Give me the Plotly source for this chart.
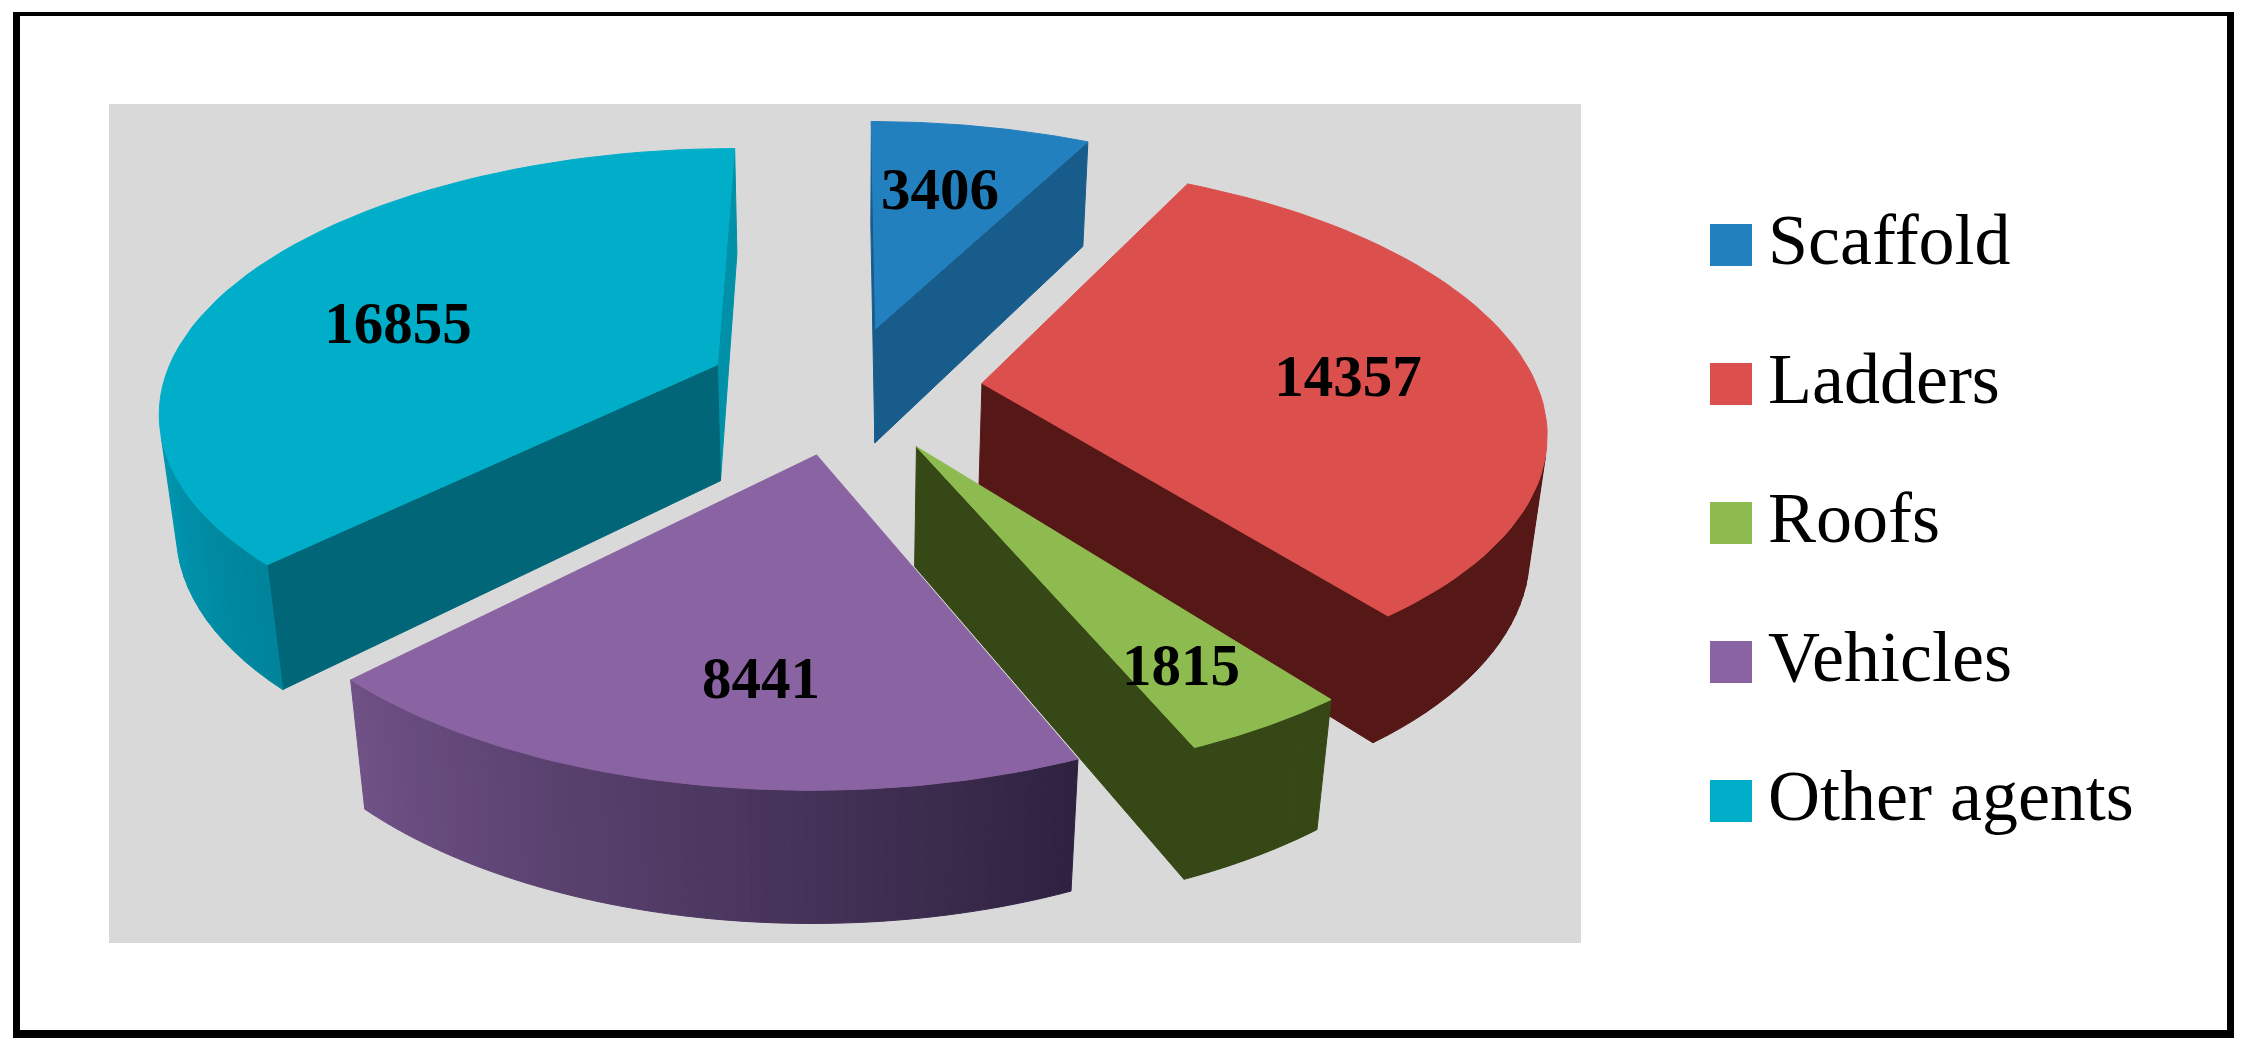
import numpy as np
import plotly.graph_objs as go

categories = ["Scaffold", "Ladders", "Roofs", "Vehicles", "Other agents"]
values = [3406, 14357, 1815, 8441, 16855]

top_colors = ["#2380BF", "#DB4F4D", "#8DBB50", "#8A63A2", "#00AEC9"]
radial_colors = ["#185C8C", "#561817", "#364816", "#6F5186", "#006678"]
# outer wall colour at the start and the end of the visible part of the arc
arc_colors = [("#185C8C", "#185C8C"), ("#561817", "#561817"), ("#364816", "#364816"),
              ("#2F2240", "#6F5186"), ("#00849C", "#00A4C0")]
arc_shade_span = [1, 1, 1, 1, 0.38]

# pie projection, in page pixels
X0, Y0 = 844, 389
A, B, H = 556, 258, 120
P, Q = 0.16, 0.025
EXPLODE = 0.25
# painter's order, back to front
draw_order = [0, 1, 2, 4, 3]
label_pos = [(940, 194), (1348, 381), (1181, 670), (761, 683), (398, 328)]


def project(px, py, pz):
    w = 1 / (1 + P * py + Q * pz)
    return X0 + A * px * w, Y0 + (-B * py + H * pz) * w


def mix(c1, c2, t):
    a = [int(c1[i:i + 2], 16) for i in (1, 3, 5)]
    b = [int(c2[i:i + 2], 16) for i in (1, 3, 5)]
    return "rgb(%d,%d,%d)" % tuple(round(u + (v - u) * t) for u, v in zip(a, b))


def signed_area(pts):
    return sum(pts[j][0] * pts[(j + 1) % 4][1] - pts[(j + 1) % 4][0] * pts[j][1] for j in range(4))


def add_poly(fig, pts, color):
    xs, ys = zip(*pts)
    fig.add_trace(go.Scatter(x=list(xs) + [xs[0]], y=list(ys) + [ys[0]], mode="lines", fill="toself",
                             fillcolor=color, line=dict(color=color, width=1), hoverinfo="skip", showlegend=False))


fig = go.Figure()

edges = np.cumsum([0] + values) / sum(values) * 2 * np.pi

for i in draw_order:
    t0, t1 = edges[i], edges[i + 1]
    mid = (t0 + t1) / 2
    ex, ey = EXPLODE * np.sin(mid), EXPLODE * np.cos(mid)
    th = np.linspace(t0, t1, 61)
    rim_x, rim_y = ex + np.sin(th), ey + np.cos(th)

    # cut faces, only the ones turned towards the viewer
    end_face = [project(ex, ey, 0), project(rim_x[-1], rim_y[-1], 0),
                project(rim_x[-1], rim_y[-1], 1), project(ex, ey, 1)]
    if signed_area(end_face) > 0:
        add_poly(fig, end_face, "#0090A8" if i == 4 else radial_colors[i])
    start_face = [project(ex, ey, 0), project(rim_x[0], rim_y[0], 0),
                  project(rim_x[0], rim_y[0], 1), project(ex, ey, 1)]
    if signed_area(start_face) < 0:
        add_poly(fig, start_face, radial_colors[i])

    # outer wall, front part only
    for k in range(60):
        quad = [project(rim_x[k], rim_y[k], 0), project(rim_x[k + 1], rim_y[k + 1], 0),
                project(rim_x[k + 1], rim_y[k + 1], 1), project(rim_x[k], rim_y[k], 1)]
        if signed_area(quad) < 0:
            t = min(1, k / 59 / arc_shade_span[i])
            add_poly(fig, quad, mix(arc_colors[i][0], arc_colors[i][1], t))

    # top face
    add_poly(fig, [project(ex, ey, 0)] + [project(u, v, 0) for u, v in zip(rim_x, rim_y)], top_colors[i])

for i in range(5):
    fig.add_trace(go.Scatter(x=[label_pos[i][0]], y=[label_pos[i][1]], mode="text", text=[str(values[i])],
                             textposition="middle center", hoverinfo="skip", showlegend=False,
                             textfont=dict(family="Liberation Serif", size=59, color="#000000", weight="bold")))

# legend on the right
legend_y = [245 + 139 * k for k in range(5)]
fig.add_trace(go.Scatter(x=[1731] * 5, y=legend_y, mode="markers", hoverinfo="skip", showlegend=False,
                         marker=dict(symbol="square", size=42, color=top_colors, line_width=0)))
fig.add_trace(go.Scatter(x=[1768] * 5, y=[v + 1 for v in legend_y], mode="text", text=categories,
                         textposition="middle right", hoverinfo="skip", showlegend=False,
                         textfont=dict(family="Liberation Serif", size=72, color="#000000")))

fig.update_layout(
    width=2244,
    height=1051,
    margin=dict(l=0, r=0, t=0, b=0),
    paper_bgcolor="#FFFFFF",
    plot_bgcolor="#FFFFFF",
    showlegend=False,
    shapes=[
        dict(type="rect", x0=13, x1=2234, y0=12, y1=1038, fillcolor="#000000", line_width=0, layer="below"),
        dict(type="rect", x0=20, x1=2227, y0=16, y1=1030, fillcolor="#FFFFFF", line_width=0, layer="below"),
        dict(type="rect", x0=109, x1=1581, y0=104, y1=943, fillcolor="#D9D9D9", line_width=0, layer="below"),
    ],
)
fig.update_xaxes(range=[0, 2244], visible=False, fixedrange=True)
fig.update_yaxes(range=[1051, 0], visible=False, fixedrange=True)

fig.write_html("out.html", config={"displayModeBar": False},
               post_script="document.body.style.margin='0';document.body.style.overflow='hidden';")
